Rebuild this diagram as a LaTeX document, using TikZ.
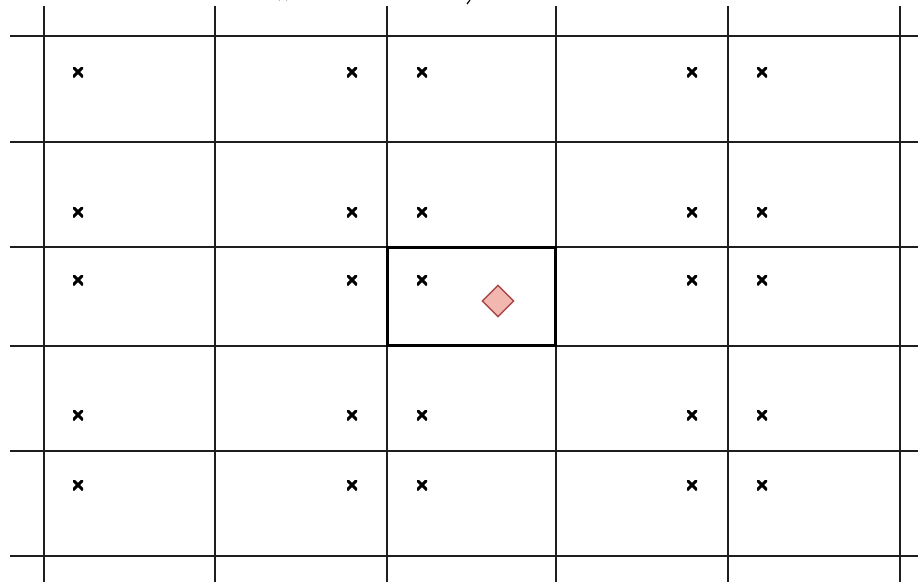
\documentclass[tikz,border=0pt]{standalone}
\usepackage{tikz}
\usetikzlibrary{shapes.geometric}
\definecolor{gridgray}{HTML}{1E1E1E}
\definecolor{markpink}{HTML}{F2B8B0}
\definecolor{markred}{HTML}{A8484A}

\begin{document}
\begin{tikzpicture}[
    x=1pt,
    y=-1pt,
    gridline/.style={
        draw=gridgray,
        line width=2.4pt
    },
    cellbox/.style={
        draw=black,
        line width=3.4pt
    },
    xmark/.style={
        inner sep=0pt,
        minimum size=10pt,
        path picture={
            \draw[line width=3pt, black]
                (path picture bounding box.south west) -- (path picture bounding box.north east)
                (path picture bounding box.north west) -- (path picture bounding box.south east);
        }
    },
    target/.style={
        diamond,
        draw=markred,
        fill=markpink,
        line width=1.4pt,
        inner sep=0pt,
        minimum size=32pt
    }
]

\useasboundingbox (0,0) rectangle (918,582);

% Grid
\foreach \gx in {44,215,387,556,728,900}
    \draw[gridline] (\gx,6) -- (\gx,582);
\foreach \gy in {36,142,247,346,451,556}
    \draw[gridline] (10,\gy) -- (918,\gy);

% Cut-off text at the top
\draw[line width=1.2pt] (279,0) arc[start angle=200, end angle=250, radius=4];
\draw[line width=1.2pt] (287,0) arc[start angle=-20, end angle=-70, radius=4];
\draw[line width=1.2pt] (470,0) -- (467,4);

% Sample points
\foreach \px in {78,352,422,692,762}
    \foreach \py in {72,212,280,415,485}
        \node[xmark] (pt-\px-\py) at (\px,\py) {};

% Selected cell and query point
\node[draw=none, inner sep=0pt, minimum width=168pt, minimum height=98pt] (cell) at (471.5,296.5) {};
\draw[cellbox] (cell.north west) rectangle (cell.south east);

\node[target] (query) at (498,301) {};

\end{tikzpicture}
\end{document}
